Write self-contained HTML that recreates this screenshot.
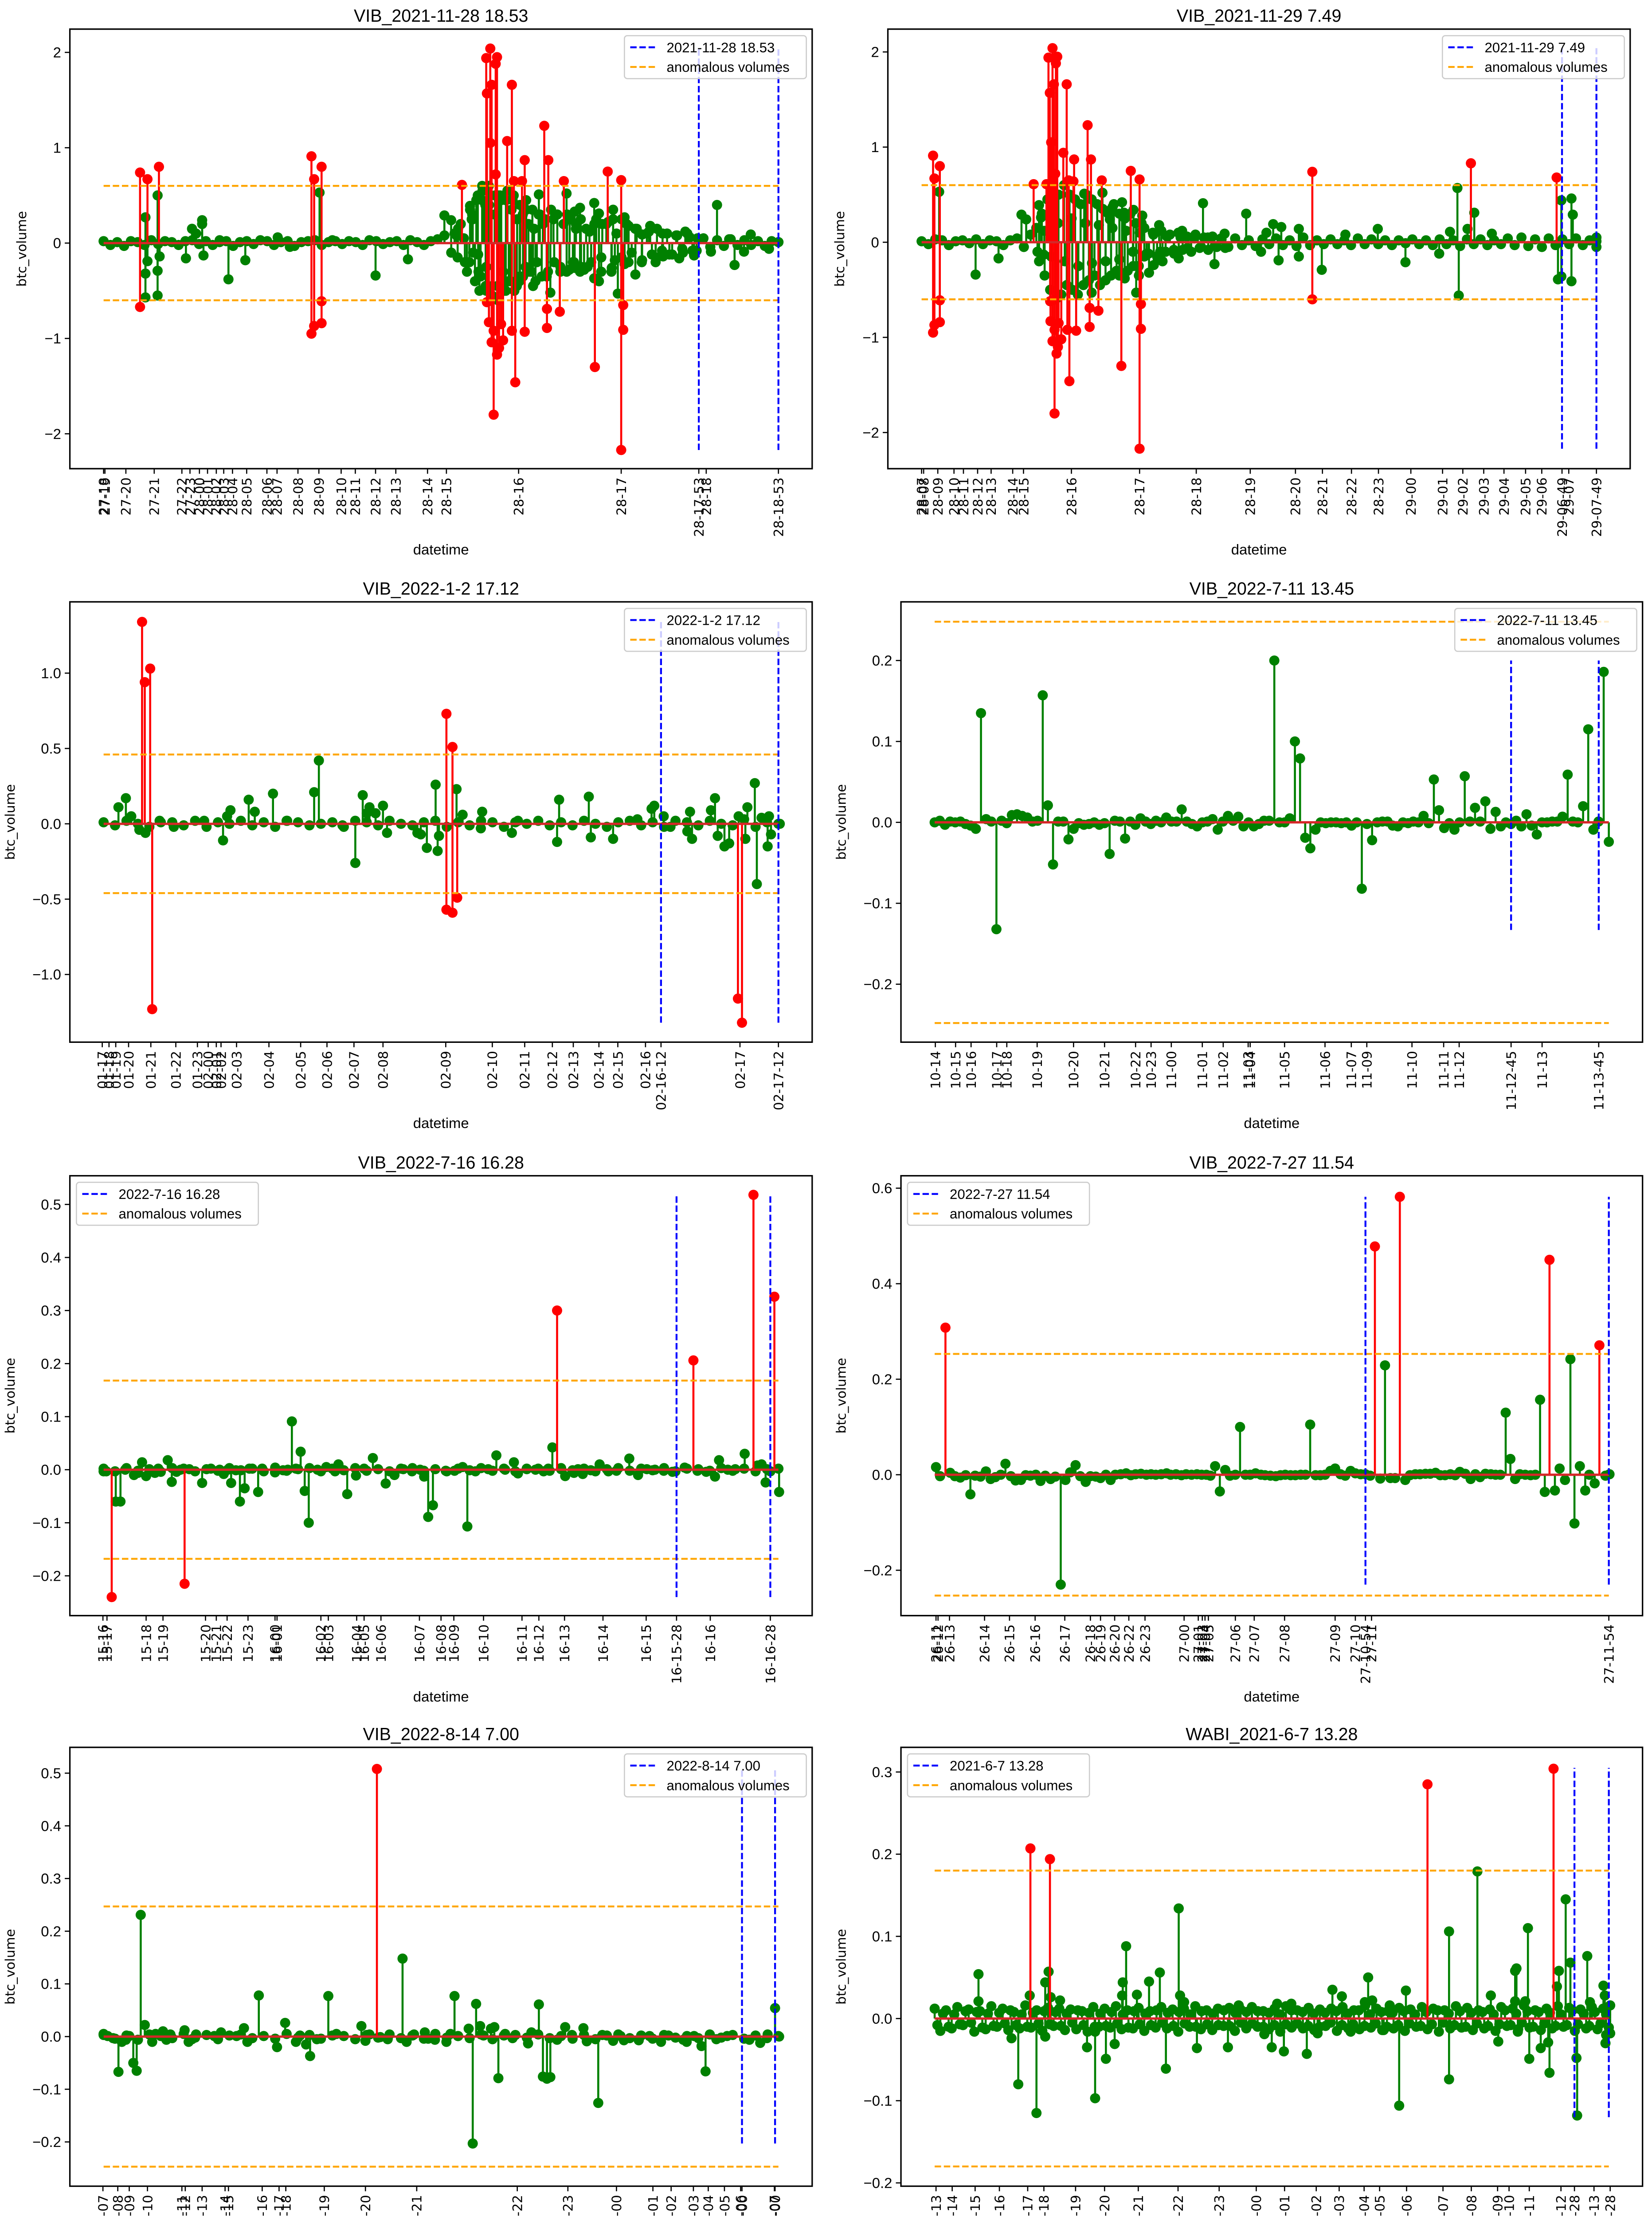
<!DOCTYPE html>
<html><head><meta charset="utf-8"><style>
html,body{margin:0;padding:0;background:#fff;overflow:hidden;width:3726px;height:5157px;}
svg{display:block;position:absolute;left:0;top:0;}
</style></head><body>
<svg id="fig" xmlns="http://www.w3.org/2000/svg" width="3726" height="5157" viewBox="0 0 1135 1571" preserveAspectRatio="none"></svg>
<script>
// ---------------- Panel 1 data ----------------
const p1TickLabels=["27-18","27-19","27-20","27-21","27-22","27-23","28-00","28-01","28-02","28-03","28-04","28-05","28-06","28-07","28-08","28-09","28-10","28-11","28-12","28-13","28-14","28-15","28-16","28-17","28-17-53","28-18","28-18-53"];
const p1TickTimes=[0,0.2,3.3,7.5,11.6,12.8,14.2,15.4,16.7,17.8,19.1,21.2,24.2,25.7,28.8,31.9,35.2,37.3,40.3,43.3,48.0,50.8,61.5,76.7,88.2,89.3,100];
const p1Red=[[5.4,0.74],[5.4,-0.67],[6.5,0.67],[8.2,0.8],[30.8,0.91],[30.8,-0.95],[31.2,0.67],[31.2,-0.87],[32.3,0.8],[32.3,-0.84],[32.3,-0.61],[53.1,0.61],[56.7,1.94],[56.8,1.57],[56.8,-0.62],[57.1,-0.83],[57.3,2.04],[57.3,1.05],[57.5,-1.04],[57.5,1.66],[57.8,-1.8],[57.8,-0.92],[58.1,1.88],[58.1,0.72],[58.3,1.95],[58.3,-1.17],[58.6,-1.1],[58.9,-0.85],[59.2,-1.02],[59.8,1.07],[60.5,1.66],[60.5,-0.92],[60.8,0.65],[61.0,-1.46],[62.0,0.65],[62.4,0.87],[62.4,-0.93],[65.3,1.23],[65.7,-0.69],[65.7,-0.89],[65.9,0.87],[67.6,-0.72],[68.2,0.65],[72.8,-1.3],[74.7,0.75],[76.7,0.66],[76.7,-2.17],[77.0,-0.91],[77.0,-0.65]];
const p1Green=[[6.2,0.27],[6.2,-0.32],[6.2,-0.57],[6.5,-0.19],[8.0,0.5],[8.0,-0.29],[8.0,-0.55],[8.3,-0.14],[12.2,-0.16],[13.1,0.15],[13.7,0.1],[14.6,0.24],[14.6,0.2],[14.8,-0.13],[17.2,0.03],[18.5,-0.38],[21.0,-0.18],[25.8,0.06],[27.6,-0.04],[32.0,0.53],[33.9,0.03],[40.3,-0.34],[45.1,-0.17],[50.5,0.29],[51.5,0.24],[52.3,0.08],[54.3,0.39],[54.7,0.25],[55.5,-0.12],[56.1,0.6],[56.1,0.45],[56.7,-0.25],[64.5,0.51],[65.1,0.2],[66.2,-0.52],[68.6,0.52],[69.0,-0.28],[69.8,0.33],[69.8,-0.26],[70.6,0.37],[70.6,-0.3],[71.2,-0.28],[72.0,0.12],[72.7,0.42],[72.7,-0.37],[73.4,0.31],[73.4,-0.4],[73.9,0.2],[75.3,-0.26],[75.5,0.35],[75.5,0.25],[76.2,-0.53],[77.2,0.27],[77.2,-0.22],[77.8,0.18],[78.8,-0.33],[79.8,0.09],[81.0,0.18],[81.8,-0.2],[82.9,-0.14],[85.3,-0.16],[86.2,0.12],[87.5,-0.13],[90.0,-0.09],[90.9,0.4],[92.7,0.04],[93.5,-0.23],[94.9,-0.09],[95.9,0.09],[98.6,-0.06],[100,0.01]];
const p1Noise=[0.02,-0.02,0.01,-0.03,0.02,0.01,-0.02,0.03,-0.01,0.02,0.01,-0.02,0.02,0.03,-0.01,0.02,-0.02,0.01,0.02,-0.03,0.01,0.02,-0.01,0.03,0.02,-0.02,0.01,0.02,-0.03,0.01,0.02,0.03,-0.02,0.01,0.02,-0.01,0.02,0.01,-0.02,0.03,0.02,-0.01,0.01,0.02,-0.02,0.03,0.01,-0.02,0.02,0.04,0.08,-0.1,0.15,-0.2,0.25,-0.3,0.4,-0.45,0.5,-0.5,0.45,-0.4,0.35,-0.45,0.3,-0.35,0.25,-0.3,0.3,-0.2,0.25,-0.25,0.2,-0.3,0.22,-0.18,0.25,-0.2,0.15,-0.18,0.12,-0.15,0.1,-0.12,0.08,-0.1,0.06,-0.08,0.05,-0.04,0.03,-0.03,0.04,-0.02,0.03,-0.02,0.02,-0.03,0.02,0.01];
const p1Cluster=[0.1,-0.15,0.2,0.05,-0.3,0.35,-0.1,0.45,-0.5,0.55,-0.45,0.6,-0.55,0.5,-0.6,0.45,-0.5,0.55,-0.4,0.5,-0.45,0.4,-0.35,0.45,-0.3,0.35,-0.4,0.3,-0.35,0.25,-0.3,0.35,-0.2,0.3,-0.25,0.2,-0.3,0.25,-0.2,0.15];
const p1Cluster2=[0.2,-0.25,0.15,-0.2,0.25,-0.15,0.2,-0.3,0.1,-0.15,0.2,-0.1,0.15,-0.2,0.1,-0.12,0.15,-0.08,0.1,-0.12,0.08,-0.06,0.1,-0.08,0.05];
const p1Cluster3=[-0.2,0.3,-0.4,0.5,-0.35,0.55,-0.5,0.4,-0.55,0.3,-0.45,0.5,-0.3,0.45,-0.4,0.35,-0.5,0.25,-0.35,0.3,-0.25,0.2,-0.3,0.15,-0.2];

// ---------------- Panel 2 data ----------------
const p2TickLabels=["28-07","28-08","28-09","28-10","28-11","28-12","28-13","28-14","28-15","28-16","28-17","28-18","28-19","28-20","28-21","28-22","28-23","29-00","29-01","29-02","29-03","29-04","29-05","29-06","29-06-49","29-07","29-07-49"];
const p2TickTimes=[0,0.3,2.4,4.8,6.2,8.3,10.3,13.5,15.1,22.2,32.3,40.7,48.7,55.4,59.4,63.7,67.7,72.5,77.2,80.2,83.3,86.3,89.5,91.9,94.9,95.9,100];
const p2Red=[[1.7,0.91],[1.7,-0.95],[1.9,0.67],[1.9,-0.87],[2.7,0.8],[2.7,-0.84],[2.7,-0.61],[16.6,0.61],[18.5,0.61],[18.8,1.94],[19.0,1.57],[19.05,-0.62],[19.1,-0.83],[19.2,1.05],[19.4,2.04],[19.4,-1.04],[19.6,1.66],[19.7,-1.8],[19.7,-0.92],[19.8,0.72],[19.9,1.88],[20.0,-1.17],[20.1,1.95],[20.2,-1.1],[20.3,-0.85],[20.7,-1.02],[21.0,0.94],[21.5,1.66],[21.6,-0.92],[21.8,0.65],[21.9,-1.46],[22.5,0.64],[22.6,0.87],[22.9,-0.93],[24.6,1.23],[24.9,-0.69],[24.9,-0.89],[25.1,0.87],[26.2,-0.72],[26.7,0.65],[29.6,-1.3],[31.0,0.75],[32.3,0.66],[32.3,-2.17],[32.5,-0.91],[32.5,-0.65],[57.9,0.74],[57.9,-0.6],[81.4,0.83],[94.1,0.68]];
const p2Green=[[2.6,0.53],[8.0,-0.34],[11.4,-0.17],[14.8,0.29],[15.5,0.24],[17.4,0.39],[17.7,0.26],[18.1,-0.13],[18.7,0.45],[24.1,0.51],[25.2,-0.53],[26.8,0.52],[27.8,0.33],[27.9,0.24],[28.3,0.37],[29.3,-0.35],[29.7,0.42],[30.0,0.31],[30.1,-0.38],[31.4,0.34],[31.8,-0.53],[32.2,-0.35],[32.7,0.28],[33.7,-0.32],[34.4,-0.24],[35.2,0.18],[35.7,-0.2],[38.1,-0.17],[38.6,0.12],[41.7,0.41],[43.4,-0.23],[44.9,0.09],[48.1,0.3],[50.3,-0.1],[51.1,0.1],[52.1,0.19],[52.9,-0.19],[53.3,0.16],[55.9,0.14],[55.9,-0.15],[59.3,-0.29],[62.8,0.08],[67.6,0.14],[71.7,-0.21],[76.7,-0.12],[78.3,0.11],[79.4,0.57],[79.6,-0.56],[80.9,0.14],[81.9,0.31],[84.5,0.09],[94.3,-0.39],[94.8,0.44],[94.8,-0.36],[96.3,0.46],[96.3,-0.41],[96.5,0.29],[100,0.05],[100,-0.05]];
const p2Noise=[0.01,-0.02,0.03,0.02,-0.03,0.01,0.02,-0.01,0.03,-0.02,0.02,0.01,-0.03,0.02,0.04,-0.05,0.08,-0.1,0.12,-0.15,0.2,-0.2,0.25,-0.25,0.2,-0.22,0.18,-0.2,0.15,-0.18,0.12,-0.1,0.1,-0.12,0.08,-0.1,0.06,-0.08,0.05,-0.06,0.04,-0.05,0.05,-0.04,0.03,-0.05,0.04,-0.03,0.02,-0.04,0.03,-0.02,0.04,-0.03,0.02,-0.04,0.05,-0.03,0.02,-0.02,0.03,-0.02,0.02,-0.03,0.04,-0.02,0.03,-0.02,0.02,-0.03,0.02,-0.01,0.03,-0.02,0.02,-0.03,0.03,-0.02,0.02,-0.04,0.03,-0.02,0.03,-0.03,0.02,-0.02,0.04,-0.03,0.05,-0.04,0.03,-0.05,0.04,-0.03,0.03,-0.02,0.04,-0.03,0.02,0.01];
const p2Cluster=[0.15,-0.2,0.3,-0.35,0.45,-0.5,0.55,-0.6,0.5,-0.55,0.6,-0.45,0.5,-0.5,0.45,-0.55,0.4,-0.45,0.5,-0.4,0.45,-0.35,0.4,-0.45,0.35,-0.4,0.3,-0.35,0.4,-0.3,0.3,-0.35,0.25,-0.3,0.3,-0.25,0.2,-0.25,0.2,-0.15];
const p2Cluster2=[0.15,-0.12,0.1,-0.15,0.12,-0.1,0.08,-0.12,0.1,-0.08,0.06,-0.1,0.08,-0.06,0.05,-0.08,0.06,-0.05,0.04,-0.06];

// ---------------- Panel 3 data ----------------
const p3TickLabels=["01-17","01-18","01-19","01-20","01-21","01-22","01-23","02-00","02-01","02-02","02-03","02-04","02-05","02-06","02-07","02-08","02-09","02-10","02-11","02-12","02-13","02-14","02-15","02-16","02-16-12","02-17","02-17-12"];
const p3TickTimes=[-0.2,0.8,1.8,3.7,7.0,10.7,13.9,15.5,16.7,17.4,19.7,24.5,29.2,33.1,37.1,41.4,50.7,57.6,62.4,66.5,69.6,73.4,76.2,80.3,82.6,94.3,100];
const p3Red=[[5.7,1.34],[6.1,0.94],[6.9,1.03],[7.2,-1.23],[50.8,0.73],[50.8,-0.57],[51.7,0.51],[51.7,-0.59],[52.4,-0.49],[94.0,-1.16],[94.6,-1.32]];
const p3Green=[[2.2,0.11],[3.3,0.17],[4.1,0.05],[5.3,-0.04],[6.2,-0.06],[8.3,0.02],[10.4,-0.02],[14.9,0.02],[17.7,-0.11],[18.3,0.05],[18.8,0.09],[21.5,0.16],[22.4,0.08],[25.1,0.2],[27.2,0.02],[31.2,0.21],[31.9,0.42],[35.4,-0.01],[37.3,-0.26],[38.4,0.19],[39.0,0.07],[39.4,0.11],[40.3,0.07],[41.4,0.12],[42.0,-0.06],[46.5,-0.06],[47.0,-0.07],[47.9,-0.16],[49.2,0.26],[49.5,-0.18],[49.7,-0.08],[52.3,0.23],[53.2,0.06],[55.9,-0.03],[56.1,0.08],[60.5,-0.06],[61.4,0.02],[67.2,-0.12],[67.5,0.16],[71.9,0.18],[72.2,-0.09],[75.5,-0.1],[79.1,0.03],[81.2,0.1],[81.6,0.12],[83.0,0.05],[84.0,-0.02],[86.5,-0.05],[86.9,0.08],[87.2,-0.1],[90.0,0.09],[90.6,0.17],[91.0,-0.08],[92.0,-0.15],[92.7,-0.13],[94.1,0.05],[95.1,-0.1],[95.4,0.11],[96.5,0.27],[96.8,-0.4],[97.5,0.04],[98.4,-0.15],[98.6,0.05],[98.9,-0.07],[100.2,0]];
const p3Noise=[0.01,-0.01,0.02,0,-0.02,0.01,0.01,-0.01,0.02,-0.02,0.01,0,0.02,-0.01,0.01,-0.02,0.02,0.01,-0.01,0,0.01,-0.02,0.02,0.01,-0.01,0.02,0,-0.01,0.01,0.02,-0.02,0.01,-0.01,0.02,0.01,-0.02,0.01,0,0.02,-0.01,0.01,-0.01,0.02,0,-0.02,0.01,0.02,-0.01,0.01,-0.02,0.02,0.01,-0.01,0.02,0,-0.01,0.03,-0.02,0.01,0];

// ---------------- Panel 4 data ----------------
const p4TickLabels=["10-14","10-15","10-16","10-17","10-18","10-19","10-20","10-21","10-22","10-23","11-00","11-01","11-02","11-03","11-04","11-05","11-06","11-07","11-09","11-10","11-11","11-12","11-12-45","11-13","11-13-45"];
const p4TickTimes=[0.1,3.1,5.4,9.2,10.7,15.2,20.6,25.2,29.8,32.1,35.1,39.7,42.8,46.5,46.8,51.9,57.9,61.8,64.1,70.8,75.5,77.8,85.5,90.1,98.5];
const p4Values=[0,0.002,-0.003,0.001,0,0.001,-0.002,-0.004,-0.008,0.135,0.004,0.001,-0.132,0.002,-0.001,0.009,0.01,0.008,0.006,0.001,0.002,0.157,0.021,-0.052,0.001,0.001,-0.021,-0.008,-0.001,-0.003,-0.002,0,-0.003,-0.001,-0.039,0.002,0.001,-0.02,0.001,-0.003,0.005,0.001,-0.002,0.002,0,0.006,0.001,0.001,0.016,0.001,-0.002,-0.005,0,0.001,0.004,-0.009,0.001,0.008,0.002,0.007,-0.005,0,-0.005,-0.002,0.002,0.002,0.2,0,0,0.005,0.1,0.079,-0.019,-0.032,-0.009,0,-0.001,0,0,-0.001,0,-0.004,0,-0.082,-0.002,-0.022,0,0.001,0.001,-0.004,-0.005,0,-0.001,0.001,0,0.008,-0.001,0.053,0.015,-0.007,-0.001,-0.009,0,0.057,0.001,0.018,0.001,0.026,-0.008,0.013,-0.005,0,-0.002,0.002,-0.005,0.01,-0.004,-0.015,0,0,0.001,0.001,0.007,0.059,0.001,0,0.02,0.115,-0.009,0.001,0.186,-0.024];

// ---------------- Panel 5 data ----------------
const p5TickLabels=["15-16","15-17","15-18","15-19","15-20","15-21","15-22","15-23","16-00","16-01","16-02","16-03","16-04","16-05","16-06","16-07","16-08","16-09","16-10","16-11","16-12","16-13","16-14","16-15","16-15-28","16-16","16-16-28"];
const p5TickTimes=[-0.1,0.5,6.3,8.8,15.1,16.7,18.3,21.4,25.4,25.7,32.2,33.3,37.5,38.6,41.1,46.8,50.0,51.9,56.3,62.0,64.5,68.3,74.0,80.4,84.9,89.9,98.8];
const p5Red=[[1.2,-0.24],[12.0,-0.215],[67.2,0.3],[87.4,0.206],[96.3,0.518],[99.4,0.326]];
const p5Green=[[0,-0.003],[0.4,-0.003],[1.8,-0.06],[2.5,-0.06],[3.2,0],[4.5,-0.01],[5.1,-0.006],[5.7,0.014],[6.3,-0.012],[7.6,-0.006],[8.1,0.002],[9.5,0.018],[10.1,-0.023],[10.8,-0.004],[11.4,0],[12.7,0.001],[14.6,-0.025],[15.9,0.002],[17.2,0],[17.8,-0.008],[18.4,0],[18.9,-0.025],[19.6,-0.001],[20.2,-0.06],[20.9,-0.035],[21.6,0.002],[22.9,-0.042],[23.5,0.002],[25.4,-0.005],[26.6,-0.001],[27.3,0],[27.9,0.091],[28.5,0.002],[29.2,0.034],[29.8,-0.04],[30.4,-0.1],[31.7,0],[33.0,0.005],[34.3,-0.003],[34.8,0.01],[36.1,-0.046],[37.4,-0.011],[38.6,0.002],[39.9,0.022],[41.8,-0.026],[43.1,-0.01],[44.4,0.001],[45.7,-0.003],[46.9,0],[47.5,-0.013],[48.1,-0.089],[48.8,-0.067],[50.7,-0.002],[52.0,-0.002],[53.2,0.005],[53.9,-0.107],[55.1,-0.003],[57.0,0.001],[58.2,0.027],[59.5,0],[60.8,0.014],[61.4,-0.007],[62.7,0.002],[64.0,0],[65.2,-0.003],[65.9,0.002],[66.5,0.042],[67.8,0.001],[68.4,-0.012],[69.7,-0.006],[70.3,0.001],[71.0,-0.008],[72.2,-0.001],[73.5,0.01],[74.8,-0.003],[76.0,-0.002],[77.9,0.021],[79.2,-0.01],[80.5,0.001],[81.7,0],[83.0,-0.002],[84.3,-0.004],[86.1,0.004],[88.0,-0.002],[89.3,-0.004],[90.6,-0.013],[91.2,0.018],[92.5,0],[93.6,0.001],[95.0,0.03],[96.9,0.008],[97.5,0.01],[98.1,-0.024],[98.8,-0.003],[100.1,-0.042]];
const p5Noise=[0.002,-0.003,0.003,-0.002,0.001,-0.004,0.003,0.002,-0.003,0.001,-0.002,0.003,-0.001,0.002,-0.003,0.004,-0.002,0.001,0.003,-0.003,0.002,-0.001,0.003,-0.002,0.001,-0.003,0.002,0.003,-0.002,0.001,-0.003,0.002,-0.001,0.003,-0.002,0.002,-0.003,0.001,0.002,-0.002,0.003,-0.001,0.002,-0.003,0.001,0.003,-0.002,0.002,-0.001,0.003,-0.003,0.002,0.001,-0.002,0.003,-0.002,0.002,-0.003,0.001,0.002];

// ---------------- Panel 6 data ----------------
const p6TickLabels=["26-11","26-12","26-13","26-14","26-15","26-16","26-17","26-18","26-19","26-20","26-22","26-23","27-00","27-01","27-03","27-04","27-05","27-06","27-07","27-08","27-09","27-10","27-10-54","27-11","27-11-54"];
const p6TickTimes=[0.2,0.5,2.2,7.4,11.1,14.9,19.3,23.1,24.6,26.7,28.8,31.2,37.0,39.1,39.7,40.1,40.6,44.6,47.4,51.9,59.4,62.4,63.9,64.8,100];
const p6Red=[[1.6,0.308],[65.3,0.478],[69.0,0.582],[91.2,0.45],[98.6,0.271]];
const p6Green=[[0.2,0.016],[0.8,-0.003],[2.3,0.004],[3.0,-0.003],[3.8,-0.006],[4.6,-0.001],[5.3,-0.041],[6.0,-0.002],[6.8,-0.004],[7.6,0.007],[8.3,-0.009],[9.0,-0.005],[9.8,0],[10.5,0.023],[11.3,-0.003],[12.0,-0.012],[12.8,-0.011],[13.5,-0.001],[14.2,-0.002],[15.0,0],[15.7,-0.013],[16.4,-0.002],[17.2,-0.009],[17.9,-0.004],[18.7,-0.23],[19.4,-0.011],[20.1,0.005],[20.9,0.02],[21.6,-0.003],[22.4,-0.015],[23.1,-0.003],[23.9,-0.004],[24.6,-0.007],[25.4,0],[26.1,-0.011],[26.8,0],[27.6,0.001],[28.4,0.003],[29.1,-0.001],[29.8,0.001],[30.6,0.002],[31.4,0],[32.1,0.001],[32.8,0],[33.6,0.001],[34.4,0.003],[35.0,0],[35.8,0.001],[36.6,-0.001],[37.3,0.001],[38.1,0],[38.9,0.001],[39.6,0],[40.3,0],[40.9,-0.002],[41.6,0.018],[42.3,-0.035],[43.1,0.01],[43.8,-0.002],[44.6,0],[45.3,0.1],[46.1,0],[46.8,0],[47.6,0.003],[48.4,0],[49.0,-0.001],[49.8,-0.002],[50.6,-0.003],[51.3,-0.001],[52.0,0],[52.8,-0.001],[53.5,-0.001],[54.3,0],[55.0,0],[55.7,0.105],[56.5,-0.001],[57.2,-0.001],[57.9,0],[58.7,0.008],[59.4,0.013],[60.2,0.001],[60.9,-0.002],[61.7,0.008],[62.4,0.003],[63.2,0.001],[63.9,0.001],[64.6,-0.002],[66.1,-0.008],[66.8,0.229],[67.6,-0.007],[68.3,-0.007],[69.8,-0.011],[70.5,-0.001],[71.3,0.001],[72.0,0.001],[72.8,0.002],[73.5,0.002],[74.3,0.004],[75.0,-0.001],[75.7,-0.001],[76.5,0.001],[77.2,-0.001],[77.9,0.006],[78.7,0.002],[79.5,-0.009],[80.2,0.001],[80.9,-0.005],[81.7,0.002],[82.5,0.001],[83.2,0],[83.9,0],[84.7,0.13],[85.4,0.033],[86.1,-0.009],[86.8,0.001],[87.6,0],[88.4,-0.001],[89.1,0],[89.8,0.157],[90.5,-0.036],[92.0,-0.033],[92.7,0.013],[93.5,-0.011],[94.3,0.242],[94.9,-0.102],[95.7,0.018],[96.5,-0.033],[97.1,0],[97.9,-0.018],[99.5,-0.002],[100.1,0.001]];

// ---------------- Panel 7 data ----------------
const p7TickLabels=["13-07","13-08","13-09","13-10","13-11","13-12","13-13","13-14","13-15","13-16","13-17","13-18","13-19","13-20","13-21","13-22","13-23","14-00","14-01","14-02","14-03","14-04","14-05","14-06","14-06-00","14-07","14-07-00"];
const p7TickTimes=[-0.1,2.1,3.8,6.5,11.6,12.1,14.6,18.0,18.5,23.5,26.0,27.0,32.7,38.8,46.4,61.3,68.8,76.0,81.4,84.1,87.4,89.6,92.0,94.4,94.6,99.4,99.5];
const p7Red=[[40.5,0.508]];
const p7Green=[[0,0.005],[0.6,0.001],[1.4,-0.003],[2.2,-0.067],[2.7,-0.01],[3.3,-0.006],[3.8,0.001],[4.4,-0.05],[4.9,-0.065],[5.5,0.231],[6.1,0.022],[7.2,-0.01],[7.7,0.005],[8.8,0.01],[9.3,-0.006],[9.9,0.004],[12.0,0.012],[12.6,-0.01],[13.1,-0.005],[13.7,0.004],[16.4,0.001],[17.4,0.008],[19.7,0.001],[20.8,0.016],[21.3,-0.01],[23.0,0.078],[25.7,-0.02],[26.9,0.026],[28.5,-0.01],[29.1,0.002],[30.0,-0.015],[30.6,-0.037],[31.6,-0.005],[33.3,0.077],[34.5,0.005],[38.2,0.02],[38.8,-0.008],[39.4,0.004],[41.0,-0.001],[42.1,-0.005],[44.3,0.148],[44.9,-0.01],[46.0,0.004],[47.6,0.008],[48.1,-0.004],[49.1,-0.006],[50.8,-0.01],[51.4,0.005],[52.0,0.077],[52.5,0.001],[54.1,0.015],[54.7,-0.203],[55.2,0.062],[55.8,0.02],[56.3,0.002],[57.4,0.015],[57.9,0.018],[58.5,-0.079],[59.5,0.005],[60.6,-0.003],[62.9,-0.013],[63.4,0.008],[64.5,0.061],[65.1,-0.076],[65.7,-0.08],[66.2,-0.077],[67.2,-0.006],[68.4,0.018],[69.4,0.003],[71.1,0.016],[71.6,-0.009],[73.3,-0.126],[73.9,0.003],[75.5,-0.008],[76.6,0.001],[77.1,-0.007],[79.3,-0.007],[80.9,0.001],[82.6,-0.01],[83.7,0.002],[85.9,-0.006],[86.4,-0.01],[87.5,0.001],[88.6,-0.018],[89.2,-0.066],[90.8,-0.005],[92.4,0.001],[95.7,-0.006],[97.3,-0.012],[98.4,0.004],[99.5,0.054],[100.1,0]];
const p7Noise=[0.003,-0.004,0.002,-0.006,0.004,0.001,-0.003,0.005,-0.002,0.003,-0.005,0.002,0.004,-0.003,0.001,-0.004,0.005,-0.002,0.003,-0.004,0.002,0.001,-0.005,0.003,-0.002,0.004,-0.003,0.002,-0.004,0.005,-0.002,0.001,-0.003,0.004,-0.005,0.002,0.003,-0.002,0.004,-0.003,0.001,-0.004,0.003,-0.005,0.002,0.004,-0.003,0.002,-0.004,0.003,-0.002,0.001,-0.003,0.004,-0.002,0.003,-0.004,0.002,-0.003,0.001];

// ---------------- Panel 8 data ----------------
const p8TickLabels=["06-13","06-14","06-15","06-16","06-17","06-18","06-19","06-20","06-21","06-22","06-23","07-00","07-01","07-02","07-03","07-04","07-05","07-06","07-07","07-08","07-09","07-10","07-11","07-12","07-12-28","07-13","07-13-28"];
const p8TickTimes=[0.2,2.6,6.0,9.6,13.8,16.2,20.9,25.2,30.2,36.1,42.2,47.7,51.9,56.6,60.0,63.7,66.0,70.0,75.4,79.6,83.5,85.2,88.2,92.9,94.9,97.8,100.2];
const p8Red=[[14.2,0.207],[17.1,0.194],[73.1,0.285],[91.8,0.304]];
const p8Green=[[6.5,0.054],[6.5,0.021],[11.4,-0.024],[12.4,-0.08],[14.1,0.028],[15.1,-0.115],[16.4,0.044],[16.4,-0.022],[16.9,0.057],[17.2,0.026],[18.6,0.022],[22.6,-0.035],[23.8,-0.097],[23.8,-0.016],[25.4,-0.049],[26.7,-0.031],[27.8,0.028],[27.9,0.044],[28.4,0.088],[30.0,0.029],[31.8,0.045],[33.4,0.056],[34.3,-0.061],[36.2,0.134],[36.4,0.028],[37.0,0.02],[38.9,-0.036],[43.5,-0.035],[45.1,0.016],[48.9,-0.019],[50.0,-0.035],[50.8,0.018],[51.8,-0.04],[52.9,0.018],[55.2,-0.043],[56.8,-0.018],[59.0,0.035],[60.4,0.027],[61.7,-0.016],[64.3,0.05],[63.8,0.02],[64.9,0.022],[66.6,-0.014],[67.5,0.016],[68.9,-0.106],[69.9,0.034],[76.3,0.106],[76.3,-0.074],[80.5,0.179],[82.5,0.028],[83.6,-0.028],[86.1,0.058],[86.1,0.021],[86.3,0.061],[86.5,-0.016],[87.6,0.021],[88.0,0.11],[88.2,-0.049],[89.9,-0.036],[91.0,-0.029],[91.2,-0.066],[92.3,0.039],[92.6,0.058],[93.6,0.145],[94.3,0.068],[95.3,-0.118],[95.2,-0.048],[96.8,0.076],[97.2,0.02],[99.2,0.04],[99.4,0.028],[99.5,-0.03],[99.6,-0.02],[100.2,0.016],[100.2,-0.018]];
const p8Noise=[0.012,-0.015,0.01,-0.012,0.014,-0.008,0.011,-0.016,0.009,-0.013,0.015,-0.01,0.012,-0.014,0.008,-0.012,0.016,-0.011,0.01,-0.015,0.013,-0.009,0.012,-0.014,0.011,-0.013,0.009,-0.016,0.014,-0.01,0.012,-0.011,0.015,-0.013,0.01,-0.012,0.013,-0.015,0.009,-0.011,0.014,-0.012,0.011,-0.016,0.012,-0.01,0.015,-0.013,0.01,-0.014,0.012,-0.009,0.013,-0.015,0.011,-0.012,0.014,-0.01,0.009,-0.013,0.012,-0.016,0.015,-0.011,0.01,-0.012,0.013,-0.014,0.011,-0.009,0.012,-0.015,0.014,-0.012,0.01,-0.013,0.016,-0.011,0.012,-0.014,0.009,-0.012,0.013,-0.015,0.011,-0.01,0.014,-0.013,0.012,-0.016,0.01,-0.012,0.015,-0.011,0.013,-0.014,0.01,-0.012,0.011,-0.015,0.014,-0.009,0.012,-0.013,0.016,-0.011,0.01,-0.014,0.012,-0.012,0.015,-0.01,0.013,-0.015,0.011,-0.012,0.014,-0.013,0.012,-0.011];
const p8Noise2=[-0.008,0.006,-0.01,0.005,-0.007,0.009,-0.005,0.008,-0.011,0.006,-0.009,0.007,-0.006,0.01,-0.008,0.005,-0.01,0.007,-0.006,0.009,-0.007,0.008,-0.009,0.006,-0.005,0.01,-0.008,0.007,-0.01,0.006,-0.009,0.008,-0.006,0.005,-0.011,0.009,-0.007,0.006,-0.008,0.01,-0.005,0.007,-0.009,0.008,-0.006,0.005,-0.01,0.009,-0.007,0.006,-0.008,0.01,-0.009,0.007,-0.005,0.008,-0.006,0.009,-0.01,0.007,-0.008,0.005,-0.007,0.01,-0.006,0.008,-0.009,0.006,-0.01,0.007,-0.005,0.009,-0.008,0.006,-0.007,0.01,-0.009,0.005,-0.006,0.008,-0.01,0.007,-0.008,0.009,-0.006,0.005,-0.009,0.008,-0.007,0.01,-0.005,0.006,-0.008,0.009,-0.01,0.007,-0.006,0.008,-0.009,0.005,-0.007,0.01,-0.008,0.006,-0.005,0.009,-0.01,0.008,-0.006,0.007,-0.009,0.005,-0.008,0.01,-0.007,0.006,-0.009,0.008,-0.006,0.005];

// ---------------- Rendering ----------------
const NS='http://www.w3.org/2000/svg';
const svg=document.getElementById('fig');
function mk(tag,parent){const e=document.createElementNS(NS,tag);parent.appendChild(e);return e;}
function minus(s){return String(s).replace('-','\u2212');}

const panels=[
 {n:1,title:'VIB_2021-11-28 18.53',leg:'2021-11-28 18.53',x0:48,x1:558,y0:20,y1:322,ymax:2.244,ymin:-2.366,yt:[-2,-1,0,1,2],yl:['-2','-1','0','1','2'],tl:p1TickLabels,tt:p1TickTimes,red:p1Red,green:p1Green,noise:[[p1Noise,0,100],[p1Cluster,52,70],[p1Cluster2,70,88],[p1Cluster3,54.2,64.2]],vals:null,thr:0.6,blue:[88.2,100],blo:-2.17,bhi:2.04,legRight:true,ylOff:30},
 {n:2,title:'VIB_2021-11-29 7.49',leg:'2021-11-29 7.49',x0:610,x1:1120,y0:20,y1:322,ymax:2.24,ymin:-2.38,yt:[-2,-1,0,1,2],yl:['-2','-1','0','1','2'],tl:p2TickLabels,tt:p2TickTimes,red:p2Red,green:p2Green,noise:[[p2Noise,0,100],[p2Cluster,17,33],[p2Cluster2,33,45]],vals:null,thr:0.6,blue:[94.9,100],blo:-2.17,bhi:2.04,legRight:true,ylOff:30},
 {n:3,title:'VIB_2022-1-2 17.12',leg:'2022-1-2 17.12',x0:48,x1:558,y0:413.5,y1:716,ymax:1.473,ymin:-1.449,yt:[-1,-0.5,0,0.5,1],yl:['-1.0','-0.5','0.0','0.5','1.0'],tl:p3TickLabels,tt:p3TickTimes,red:p3Red,green:p3Green,noise:[[p3Noise,0,100]],vals:null,thr:0.46,blue:[82.6,100],blo:-1.32,bhi:1.34,legRight:true,ylOff:38},
 {n:4,title:'VIB_2022-7-11 13.45',leg:'2022-7-11 13.45',x0:619,x1:1128.5,y0:413.5,y1:716,ymax:0.2725,ymin:-0.2716,yt:[-0.2,-0.1,0,0.1,0.2],yl:['-0.2','-0.1','0.0','0.1','0.2'],tl:p4TickLabels,tt:p4TickTimes,red:[],green:[],noise:[],vals:p4Values,thr:0.248,blue:[85.5,98.5],blo:-0.133,bhi:0.2,legRight:true,ylOff:38},
 {n:5,title:'VIB_2022-7-16 16.28',leg:'2022-7-16 16.28',x0:48,x1:558,y0:807.8,y1:1110,ymax:0.554,ymin:-0.275,yt:[-0.2,-0.1,0,0.1,0.2,0.3,0.4,0.5],yl:['-0.2','-0.1','0.0','0.1','0.2','0.3','0.4','0.5'],tl:p5TickLabels,tt:p5TickTimes,red:p5Red,green:p5Green,noise:[[p5Noise,0,100]],vals:null,thr:0.168,blue:[84.9,98.8],blo:-0.24,bhi:0.518,legRight:false,ylOff:38},
 {n:6,title:'VIB_2022-7-27 11.54',leg:'2022-7-27 11.54',x0:619,x1:1128.5,y0:807.8,y1:1110,ymax:0.626,ymin:-0.295,yt:[-0.2,0,0.2,0.4,0.6],yl:['-0.2','0.0','0.2','0.4','0.6'],tl:p6TickLabels,tt:p6TickTimes,red:p6Red,green:p6Green,noise:[],vals:null,thr:0.253,blue:[63.9,100],blo:-0.23,bhi:0.582,legRight:false,ylOff:38},
 {n:7,title:'VIB_2022-8-14 7.00',leg:'2022-8-14 7.00',x0:48,x1:558,y0:1200.5,y1:1502,ymax:0.549,ymin:-0.284,yt:[-0.2,-0.1,0,0.1,0.2,0.3,0.4,0.5],yl:['-0.2','-0.1','0.0','0.1','0.2','0.3','0.4','0.5'],tl:p7TickLabels,tt:p7TickTimes,red:p7Red,green:p7Green,noise:[[p7Noise,0,100]],vals:null,thr:0.247,blue:[94.6,99.5],blo:-0.203,bhi:0.508,legRight:true,ylOff:38},
 {n:8,title:'WABI_2021-6-7 13.28',leg:'2021-6-7 13.28',x0:619,x1:1128.5,y0:1200.5,y1:1502,ymax:0.33,ymin:-0.204,yt:[-0.2,-0.1,0,0.1,0.2,0.3],yl:['-0.2','-0.1','0.0','0.1','0.2','0.3'],tl:p8TickLabels,tt:p8TickTimes,red:p8Red,green:p8Green,noise:[[p8Noise,0,100],[p8Noise2,0.4,99.6]],vals:null,thr:0.18,blue:[94.9,100],blo:-0.12,bhi:0.305,legRight:false,ylOff:38}
];

function drawPanel(P){
 const g=mk('g',svg);
 
 
 const sx=t=>P.x0+(t+5)/110*(P.x1-P.x0);
 const sy=v=>P.y0+(P.ymax-v)/(P.ymax-P.ymin)*(P.y1-P.y0);
 const R=3.5, SW=1.4;
 function stem(t,v,color,parent,name){
  const l=mk('line',parent);
  l.setAttribute('x1',sx(t));l.setAttribute('x2',sx(t));l.setAttribute('y1',sy(0));l.setAttribute('y2',sy(v));
  l.setAttribute('stroke',color);l.setAttribute('stroke-width',SW);
  
  
  const c=mk('circle',parent);
  c.setAttribute('cx',sx(t));c.setAttribute('cy',sy(v));c.setAttribute('r',R);c.setAttribute('fill',color);
  
  
 }
 const ti=mk('text',g);
 ti.setAttribute('x',(P.x0+P.x1)/2);ti.setAttribute('y',P.y0-5);ti.setAttribute('text-anchor','middle');
 ti.setAttribute('font-family','Liberation Sans, sans-serif');ti.setAttribute('font-size','12');
 ti.textContent=P.title;
 
 
 const gg=mk('g',g);
 
 
 P.noise.forEach(seg=>{const arr=seg[0],a=seg[1],b=seg[2];arr.forEach((v,i)=>stem(a+(b-a)*i/(arr.length-1),v,'#008000',gg,'normal-volume'));});
 if(P.vals){P.vals.forEach((v,i)=>stem(100*i/(P.vals.length-1),v,'#008000',gg,'normal-volume'));}
 P.green.forEach(p=>stem(p[0],p[1],'#008000',gg,'normal-volume'));
 const rg=mk('g',g);
 
 
 P.red.forEach(p=>stem(p[0],p[1],'#ff0000',rg,'anomalous-volume'));
 const bl=mk('line',g);
 bl.setAttribute('x1',sx(0));bl.setAttribute('x2',sx(100));bl.setAttribute('y1',sy(0));bl.setAttribute('y2',sy(0));
 bl.setAttribute('stroke','#d62728');bl.setAttribute('stroke-width','1.6');
 
 
 [P.thr,-P.thr].forEach((v,i)=>{
  const l=mk('line',g);
  l.setAttribute('x1',sx(0));l.setAttribute('x2',sx(100));l.setAttribute('y1',sy(v));l.setAttribute('y2',sy(v));
  l.setAttribute('stroke','#ffa500');l.setAttribute('stroke-width','1.3');l.setAttribute('stroke-dasharray','4.4 1.9');
  
  
 });
 P.blue.forEach((t,i)=>{
  const l=mk('line',g);
  l.setAttribute('x1',sx(t));l.setAttribute('x2',sx(t));l.setAttribute('y1',sy(P.blo));l.setAttribute('y2',sy(P.bhi));
  l.setAttribute('stroke','#0000ff');l.setAttribute('stroke-width','1.3');l.setAttribute('stroke-dasharray','4.4 1.9');
  
  
 });
 const fr=mk('rect',g);
 fr.setAttribute('x',P.x0);fr.setAttribute('y',P.y0);fr.setAttribute('width',P.x1-P.x0);fr.setAttribute('height',P.y1-P.y0);
 fr.setAttribute('fill','none');fr.setAttribute('stroke','#000');fr.setAttribute('stroke-width','1');
 
 
 P.yt.forEach((v,i)=>{
  const tk=mk('line',g);
  tk.setAttribute('x1',P.x0-3.5);tk.setAttribute('x2',P.x0);tk.setAttribute('y1',sy(v));tk.setAttribute('y2',sy(v));
  tk.setAttribute('stroke','#000');tk.setAttribute('stroke-width','0.8');
  
  
  const tx=mk('text',g);
  tx.setAttribute('x',P.x0-6);tx.setAttribute('y',sy(v)+3.5);tx.setAttribute('text-anchor','end');
  tx.setAttribute('font-family','Liberation Sans, sans-serif');tx.setAttribute('font-size','10');
  tx.textContent=minus(P.yl[i]);
  
  
 });
 P.tt.forEach((t,i)=>{
  const tk=mk('line',g);
  tk.setAttribute('x1',sx(t));tk.setAttribute('x2',sx(t));tk.setAttribute('y1',P.y1);tk.setAttribute('y2',P.y1+3.5);
  tk.setAttribute('stroke','#000');tk.setAttribute('stroke-width','0.8');
  
  
  const tx=mk('text',g);
  const X=sx(t)+3.3, Y=P.y1+6;
  tx.setAttribute('x',X);tx.setAttribute('y',Y);tx.setAttribute('text-anchor','end');
  tx.setAttribute('transform','rotate(-90 '+X+' '+Y+')');
  tx.setAttribute('font-family','DejaVu Sans, sans-serif');tx.setAttribute('font-size','9');
  tx.textContent=P.tl[i];
  
  
 });
 const xl=mk('text',g);
 xl.setAttribute('x',(P.x0+P.x1)/2);xl.setAttribute('y',P.y1+59);xl.setAttribute('text-anchor','middle');
 xl.setAttribute('font-family','Liberation Sans, sans-serif');xl.setAttribute('font-size','10');
 xl.textContent='datetime';
 
 
 const yl=mk('text',g);
 const YX=P.x0-P.ylOff, YY=(P.y0+P.y1)/2;
 yl.setAttribute('x',YX);yl.setAttribute('y',YY);yl.setAttribute('text-anchor','middle');
 yl.setAttribute('transform','rotate(-90 '+YX+' '+YY+')');
 yl.setAttribute('font-family','DejaVu Sans, sans-serif');yl.setAttribute('font-size','9');
 yl.textContent='btc_volume';
 
 
 const lg=mk('g',g);
 
 
 const LW=125, LH=29.5;
 const lx=P.legRight?P.x1-4-LW:P.x0+4.5, ly=P.y0+4.5;
 const box=mk('rect',lg);
 box.setAttribute('x',lx);box.setAttribute('y',ly);box.setAttribute('width',LW);box.setAttribute('height',LH);box.setAttribute('rx','2');
 box.setAttribute('fill','#fff');box.setAttribute('fill-opacity','0.8');box.setAttribute('stroke','#ccc');box.setAttribute('stroke-width','0.8');
 
 
 [[P.leg,'#0000ff'],['anomalous volumes','#ffa500']].forEach((e,i)=>{
  const yy=ly+8+i*13.5;
  const sl=mk('line',lg);
  sl.setAttribute('x1',lx+4);sl.setAttribute('x2',lx+22);sl.setAttribute('y1',yy);sl.setAttribute('y2',yy);
  sl.setAttribute('stroke',e[1]);sl.setAttribute('stroke-width','1.3');sl.setAttribute('stroke-dasharray','4.4 1.9');
  
  
  const tx=mk('text',lg);
  tx.setAttribute('x',lx+29);tx.setAttribute('y',yy+3.4);
  tx.setAttribute('font-family','Liberation Sans, sans-serif');tx.setAttribute('font-size','9.5');
  tx.textContent=e[0];
  
  
 });
}
panels.forEach(drawPanel);
</script>
</body></html>
